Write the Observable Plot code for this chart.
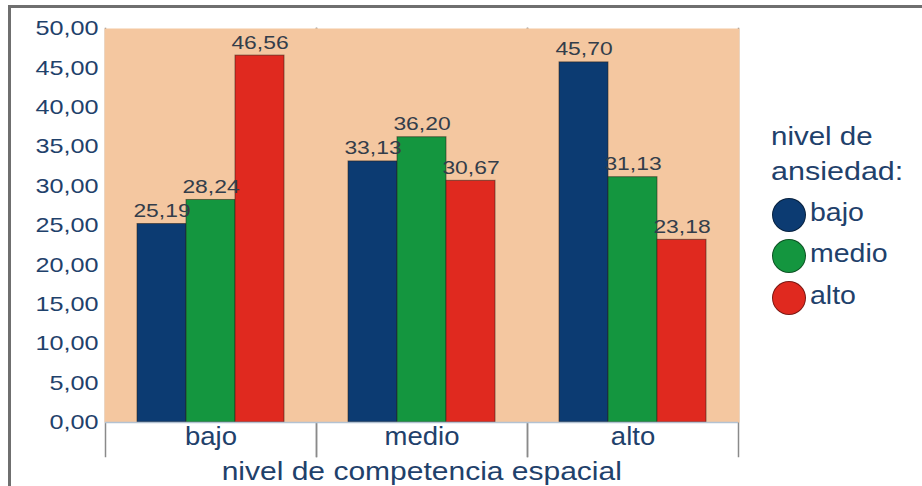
<!DOCTYPE html>
<html>
<head>
<meta charset="utf-8">
<script src="https://cdn.jsdelivr.net/npm/d3@7"></script>
<script src="https://cdn.jsdelivr.net/npm/@observablehq/plot@0.6"></script>
<style>
  html, body { margin: 0; padding: 0; background: #fff; }
  #wrap { position: relative; width: 922px; height: 486px; overflow: hidden; font-family: "Liberation Sans", Arial, sans-serif; }
  #border { position: absolute; left: 8px; top: 5px; width: 960px; height: 520px; border-top: 3px solid #6f6f6f; border-left: 3px solid #6f6f6f; box-sizing: border-box; }
  #chart { position: absolute; left: 0; top: 0; }
  .lbl { position: absolute; white-space: nowrap; font-size: 25px; line-height: 25px; color: #1f416b; }
  .dot { position: absolute; width: 34px; height: 34px; border-radius: 50%; box-sizing: border-box; border: 1px solid rgba(0,0,0,0.45); }
</style>
</head>
<body>
<div id="wrap">
  <div id="border"></div>
  <div id="chart"></div>
</div>
<script>
// ---- data ----
const competencia = ["bajo", "medio", "alto"];          // x groups
const ansiedad = ["bajo", "medio", "alto"];             // series
const ansiedadBajo  = [25.19, 33.13, 45.70];
const ansiedadMedio = [28.24, 36.20, 31.13];
const ansiedadAlto  = [46.56, 30.67, 23.18];
const yTicks = [0, 5, 10, 15, 20, 25, 30, 35, 40, 45, 50];
const colors = ["#0c3b72", "#14963f", "#e0291f"];
const xTitle = "nivel de competencia espacial";
const legendTitle = ["nivel de", "ansiedad:"];

const seriesValues = [ansiedadBajo, ansiedadMedio, ansiedadAlto];
const data = [];
competencia.forEach((g, i) => ansiedad.forEach((s, j) => data.push({group: g, series: s, value: seriesValues[j][i]})));
const fmt = d => d.toFixed(2).replace(".", ",");

const chart = Plot.plot({
  width: 922,
  height: 486,
  marginLeft: 105,
  marginRight: 184,
  marginTop: 28,
  marginBottom: 64,
  style: {background: "transparent", fontFamily: "'Liberation Sans', Arial, sans-serif"},
  fx: {domain: competencia, padding: 0, label: null},
  x: {domain: ansiedad, paddingInner: 0, paddingOuter: 0.62, axis: null},
  y: {domain: [0, 50], label: null},
  color: {domain: ansiedad, range: colors},
  marks: [
    Plot.frame({anchor: "left", insetBottom: -34, stroke: "#8a8a8a", strokeWidth: 1.5}),
    Plot.frame({anchor: "right", insetBottom: -34, stroke: "#8a8a8a", strokeWidth: 1.5}),
    Plot.frame({fill: "#f4c7a0", stroke: null, insetLeft: -1, insetRight: -1}),
    Plot.barY(data, {fx: "group", x: "series", y: "value", fill: "series", stroke: "#2a2018", strokeOpacity: 0.55, strokeWidth: 1}),
    Plot.ruleY([0], {stroke: "#b3c2d2", strokeWidth: 1.5}),
    Plot.text(data, {fx: "group", x: "series", y: "value", text: d => fmt(d.value), lineAnchor: "bottom", dy: -7, fontSize: 18, fill: "#333d4a"}),
    Plot.axisY({ticks: yTicks, tickFormat: fmt, tickSize: 0, tickPadding: 7, fontSize: 21, color: "#1f416b", label: null}),
    Plot.axisFx({anchor: "bottom", tickSize: 0, tickPadding: 5, fontSize: 25, color: "#1f416b", label: null})
  ]
});
document.getElementById("chart").appendChild(chart);

// horizontal glyph stretch to match the wide lettering of the reference
function stretch(sel, f) {
  chart.querySelectorAll(sel).forEach(t => {
    const w = t.getComputedTextLength();
    if (w > 0) { t.setAttribute("textLength", (w * f).toFixed(1)); t.setAttribute("lengthAdjust", "spacingAndGlyphs"); }
  });
}
stretch('g[aria-label="y-axis tick label"] text', 1.2);
stretch('g[aria-label="fx-axis tick label"] text', 1.1);
stretch('g[aria-label="text"] text', 1.27);

// HTML legend and axis title
const wrap = document.getElementById("wrap");
function addLabel(text, left, top, scale, origin) {
  const d = document.createElement("div");
  d.className = "lbl";
  d.textContent = text;
  d.style.left = left + "px";
  d.style.top = top + "px";
  d.style.transform = `scaleX(${scale})`;
  d.style.transformOrigin = origin || "left center";
  wrap.appendChild(d);
  return d;
}
const t = addLabel(xTitle, 0, 459, 1.2, "center center");
t.style.left = (421.5 - t.offsetWidth / 2) + "px";

addLabel(legendTitle[0], 771, 124, 1.18);
addLabel(legendTitle[1], 771, 159, 1.22);
const dotY = [215, 256, 298];
ansiedad.forEach((s, i) => {
  const c = document.createElement("div");
  c.className = "dot";
  c.style.background = colors[i];
  c.style.left = (789 - 17) + "px";
  c.style.top = (dotY[i] - 17) + "px";
  wrap.appendChild(c);
  addLabel(s, 810, dotY[i] - 15, 1.14);
});
</script>
</body>
</html>
